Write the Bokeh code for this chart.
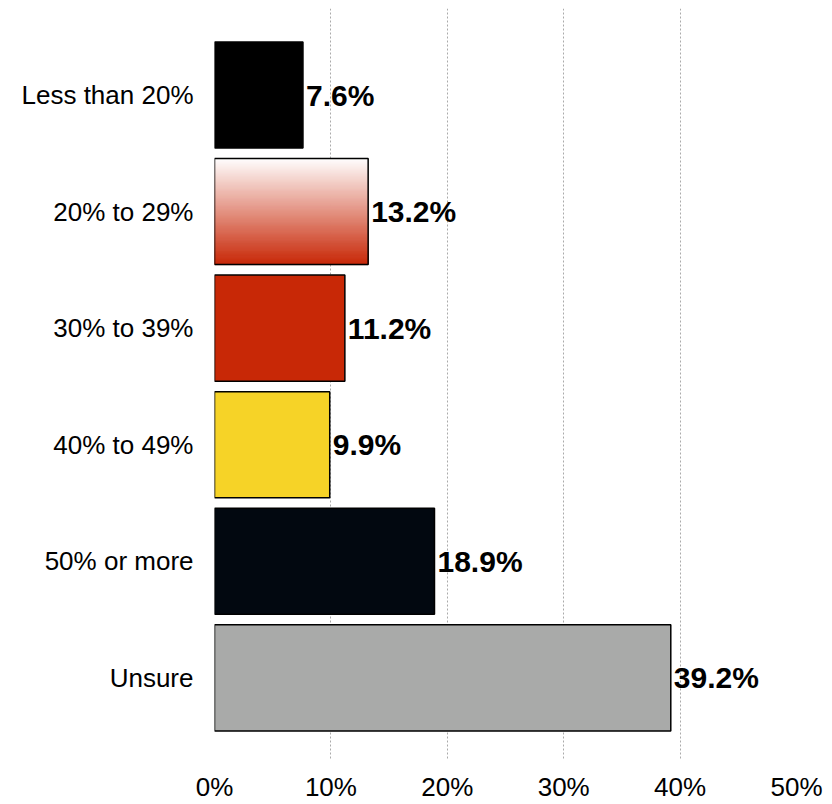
import numpy as np
from bokeh.plotting import figure
from bokeh.models import Range1d, FixedTicker, ColumnDataSource
from bokeh.core.properties import value
from bokeh.embed import file_html
from bokeh.resources import INLINE

categories = ["Less than 20%", "20% to 29%", "30% to 39%", "40% to 49%", "50% or more", "Unsure"]
values = [7.6, 13.2, 11.2, 9.9, 18.9, 39.2]
labels = ["7.6%", "13.2%", "11.2%", "9.9%", "18.9%", "39.2%"]
colors = ["#000000", None, "#c82806", "#f6d327", "#020810", "#a9aaa9"]
x_ticks = [0, 10, 20, 30, 40, 50]
x_tick_labels = ["0%", "10%", "20%", "30%", "40%", "50%"]

FONT = "Liberation Sans"
H = 0.91

ypos = list(range(len(categories)))

p = figure(width=824, height=804, output_backend="svg", toolbar_location=None,
           x_range=Range1d(0, 50), y_range=Range1d(5.70, -0.742),
           min_border_left=214, min_border_right=28, min_border_top=8, min_border_bottom=0)
p.outline_line_color = None
p.background_fill_color = "white"
p.border_fill_color = "white"

# gradient bar (white -> red), drawn as thin slices
gi = 1
n = 100
top_col = np.array([255, 255, 255])
bot_col = np.array([200, 40, 8])
edges = np.linspace(ypos[gi] - H / 2, ypos[gi] + H / 2, n + 1)
g_cols = []
for k in range(n):
    t = (k + 0.5) / n
    c = np.round(top_col * (1 - t) + bot_col * t).astype(int)
    g_cols.append("#%02x%02x%02x" % tuple(c))
p.quad(left=[0] * n, right=[values[gi]] * n, top=list(edges[:-1]), bottom=list(edges[1:]),
       fill_color=g_cols, line_color=g_cols, line_width=1)

# solid bars
solid = [i for i in range(len(values)) if colors[i] is not None]
src = ColumnDataSource(dict(
    y=[ypos[i] for i in solid],
    right=[values[i] for i in solid],
    color=[colors[i] for i in solid],
))
p.hbar(y="y", left=0, right="right", height=H, fill_color="color", line_color="black", line_width=1.5, source=src)
# outline for gradient bar
p.hbar(y=[ypos[gi]], left=0, right=[values[gi]], height=H, fill_color=None, line_color="black", line_width=1.5)

# value labels
p.text(x=values, y=ypos, text=labels, x_offset=3, text_align="left", text_baseline="middle",
       text_font=value(FONT), text_font_style="bold", text_font_size="30px", text_color="black")

# axes
xa = p.xaxis[0]
xa.ticker = FixedTicker(ticks=x_ticks)
xa.major_label_overrides = {t: l for t, l in zip(x_ticks, x_tick_labels)}
xa.axis_line_color = None
xa.major_tick_line_color = None
xa.minor_tick_line_color = None
xa.major_tick_in = 0
xa.major_tick_out = 0
xa.major_label_text_font = FONT
xa.major_label_text_font_size = "26px"
xa.major_label_text_color = "black"
xa.major_label_text_line_height = 0.8
xa.major_label_standoff = 12

ya = p.yaxis[0]
ya.ticker = FixedTicker(ticks=ypos)
ya.major_label_overrides = {i: c for i, c in zip(ypos, categories)}
ya.axis_line_color = None
ya.major_tick_line_color = None
ya.minor_tick_line_color = None
ya.major_tick_in = 0
ya.major_tick_out = 0
ya.major_label_text_font = FONT
ya.major_label_text_font_size = "26px"
ya.major_label_text_color = "black"
ya.major_label_standoff = 21

p.ygrid.grid_line_color = None
p.xgrid.ticker = FixedTicker(ticks=[10, 20, 30, 40, 50])
p.xgrid.grid_line_color = "#aaaaaa"
p.xgrid.grid_line_dash = "2 2"
p.xgrid.grid_line_width = 1

open("out.html", "w").write(file_html(p, INLINE))
